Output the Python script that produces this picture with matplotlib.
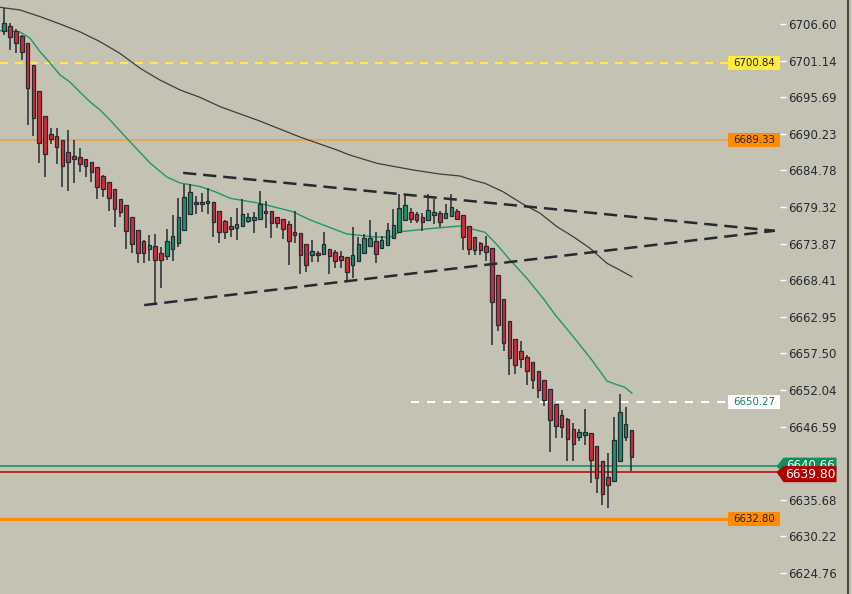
import numpy as np
import matplotlib
matplotlib.use('Agg')
import matplotlib.pyplot as plt
import matplotlib.transforms as mtransforms
from matplotlib.patches import Rectangle, Polygon
from matplotlib.lines import Line2D

plt.rcParams['lines.scale_dashes'] = False
plt.rcParams['font.family'] = ['DejaVu Sans']

# candles (OHLC), oldest first
opens = [6705.60, 6706.30, 6705.60, 6704.81, 6703.72, 6700.45, 6696.57, 6692.84, 6690.16, 6689.86,
         6689.26, 6687.48, 6686.92, 6686.77, 6686.43, 6685.98, 6685.28, 6683.99, 6683.00, 6681.96,
         6680.47, 6679.57, 6677.79, 6675.85, 6674.21, 6673.10, 6673.46, 6672.42, 6671.97, 6673.02,
         6673.91, 6675.85, 6678.23, 6680.02, 6679.72, 6679.87, 6680.02, 6678.68, 6677.19, 6676.44,
         6676.14, 6676.44, 6677.19, 6677.34, 6677.49, 6678.68, 6678.68, 6677.79, 6677.49, 6676.74,
         6675.55, 6675.40, 6673.76, 6672.12, 6672.42, 6672.27, 6673.02, 6672.57, 6671.97, 6671.82,
         6670.63, 6671.23, 6672.42, 6673.46, 6674.21, 6673.16, 6673.61, 6674.65, 6675.55, 6677.34,
         6678.53, 6678.23, 6677.79, 6677.34, 6678.08, 6678.38, 6677.64, 6677.93, 6678.68, 6678.08,
         6676.44, 6674.80, 6673.91, 6673.46, 6673.16, 6669.14, 6665.56, 6662.28, 6659.60, 6657.81,
         6656.96, 6656.17, 6654.83, 6653.49, 6652.15, 6649.91, 6648.27, 6647.67, 6646.18, 6644.99,
         6645.29, 6645.58, 6643.65, 6641.41, 6639.03, 6638.43, 6641.41, 6644.99, 6646.03]
highs = [6708.94, 6706.80, 6705.81, 6704.96, 6703.81, 6700.49, 6696.61, 6692.89, 6691.14, 6691.10,
         6689.31, 6690.80, 6689.31, 6688.12, 6686.48, 6686.07, 6685.33, 6684.09, 6683.05, 6681.96,
         6680.51, 6679.62, 6677.83, 6675.89, 6674.40, 6675.15, 6675.30, 6673.40, 6675.99, 6678.08,
         6680.62, 6682.71, 6682.71, 6681.00, 6681.36, 6682.11, 6680.07, 6678.68, 6677.38, 6677.79,
         6679.13, 6680.47, 6678.38, 6678.53, 6681.66, 6680.17, 6678.68, 6677.88, 6677.49, 6677.19,
         6678.68, 6675.40, 6673.76, 6674.36, 6672.72, 6675.55, 6673.02, 6672.87, 6672.72, 6671.82,
         6676.29, 6674.80, 6675.25, 6677.34, 6675.55, 6674.95, 6676.89, 6678.98, 6681.21, 6681.21,
         6679.13, 6678.53, 6678.38, 6681.21, 6680.47, 6678.68, 6679.72, 6681.21, 6678.98, 6678.08,
         6676.44, 6674.80, 6674.06, 6674.95, 6673.16, 6669.14, 6665.56, 6662.28, 6659.60, 6659.30,
         6657.26, 6656.17, 6654.83, 6653.49, 6652.15, 6649.91, 6649.01, 6647.87, 6647.08, 6646.18,
         6649.16, 6645.58, 6643.65, 6641.41, 6642.60, 6647.97, 6651.40, 6649.46, 6646.03]
lows = [6705.01, 6702.73, 6702.32, 6701.24, 6691.54, 6689.91, 6685.84, 6683.84, 6688.71, 6685.73,
        6682.35, 6681.75, 6682.85, 6684.58, 6683.75, 6683.09, 6680.56, 6680.86, 6678.77, 6676.38,
        6677.87, 6673.10, 6672.42, 6671.02, 6670.93, 6671.32, 6664.86, 6667.20, 6671.42, 6671.27,
        6673.40, 6675.85, 6678.23, 6678.23, 6678.57, 6678.28, 6674.89, 6674.00, 6674.59, 6674.89,
        6674.36, 6676.44, 6676.89, 6675.40, 6677.49, 6676.14, 6674.65, 6676.14, 6674.50, 6670.63,
        6673.91, 6669.29, 6669.59, 6671.08, 6671.08, 6672.27, 6669.29, 6670.18, 6670.18, 6668.24,
        6668.69, 6671.23, 6672.42, 6673.46, 6670.93, 6673.16, 6673.61, 6674.65, 6675.55, 6677.34,
        6676.89, 6676.89, 6675.70, 6677.19, 6676.74, 6676.29, 6677.49, 6677.93, 6677.34, 6672.87,
        6672.12, 6672.12, 6672.12, 6671.23, 6658.70, 6660.79, 6657.81, 6654.23, 6654.38, 6655.27,
        6652.74, 6652.15, 6650.80, 6649.61, 6642.75, 6644.84, 6644.84, 6641.41, 6641.41, 6644.39,
        6643.80, 6638.13, 6636.64, 6634.85, 6634.40, 6638.43, 6641.41, 6644.39, 6639.92]
closes = [6706.71, 6704.71, 6703.81, 6702.47, 6697.02, 6692.63, 6688.82, 6687.27, 6689.41, 6688.31,
          6685.48, 6686.07, 6686.43, 6685.78, 6685.39, 6684.49, 6682.26, 6681.96, 6680.71, 6678.98,
          6678.53, 6675.70, 6673.76, 6672.42, 6672.42, 6673.61, 6671.38, 6671.46, 6674.21, 6674.95,
          6677.79, 6680.77, 6681.51, 6679.72, 6680.07, 6680.22, 6677.08, 6675.55, 6675.55, 6676.00,
          6676.74, 6678.23, 6677.79, 6677.79, 6679.72, 6678.38, 6676.89, 6676.89, 6676.00, 6674.21,
          6675.10, 6672.12, 6670.63, 6672.72, 6672.12, 6673.76, 6671.97, 6671.23, 6671.38, 6669.59,
          6672.12, 6673.76, 6674.65, 6674.65, 6672.27, 6674.36, 6675.85, 6676.59, 6679.13, 6679.57,
          6677.49, 6677.34, 6677.04, 6678.83, 6678.53, 6677.04, 6678.38, 6679.28, 6677.49, 6674.80,
          6673.02, 6672.87, 6672.87, 6672.57, 6665.11, 6661.68, 6659.00, 6656.77, 6655.72, 6656.62,
          6654.83, 6653.49, 6652.00, 6650.50, 6647.52, 6646.63, 6646.48, 6644.69, 6643.94, 6645.73,
          6645.73, 6641.56, 6638.88, 6636.49, 6637.83, 6644.54, 6648.72, 6646.93, 6642.00]

# moving averages (bar index, price)
ma_fast_x = [-0.7, 1.0, 2.7, 4.4, 6.2, 7.9, 9.6, 11.3, 13.0, 14.8, 16.5, 18.2, 21.7, 25.1, 28.0,
             30.3, 33.7, 36.3, 38.9, 44.0, 49.7, 52.7, 59.0, 63.5, 66.4, 68.2, 73.8, 78.5, 82.8,
             84.9, 87.1, 90.0, 92.8, 94.9, 98.0, 101.2, 103.8, 105.2, 106.9, 108.1]
ma_fast_y = [6705.60, 6705.56, 6705.41, 6704.51, 6702.43, 6700.79, 6699.00, 6697.96, 6696.47, 6694.97,
             6693.78, 6692.29, 6689.01, 6685.88, 6683.79, 6682.90, 6682.38, 6681.60, 6680.62, 6679.87,
             6678.62, 6677.38, 6675.30, 6674.89, 6674.80, 6675.64, 6676.14, 6676.49, 6675.55, 6673.66,
             6671.42, 6668.69, 6665.71, 6663.22, 6659.99, 6656.51, 6653.38, 6652.93, 6652.44, 6651.55]
ma_slow_x = [-0.7, 2.7, 6.2, 9.6, 13.0, 16.5, 19.9, 23.4, 26.8, 30.3, 33.7, 37.2, 44.0, 50.9, 57.3,
             59.5, 64.2, 70.4, 75.0, 78.5, 80.6, 82.8, 85.9, 89.3, 92.3, 95.2, 98.0, 100.9, 103.8,
             106.0, 108.1]
ma_slow_y = [6709.09, 6708.69, 6707.69, 6706.60, 6705.45, 6703.96, 6702.23, 6700.00, 6698.25, 6696.76,
             6695.67, 6694.27, 6692.14, 6689.76, 6687.82, 6687.07, 6685.83, 6684.84, 6684.24, 6683.94,
             6683.35, 6682.85, 6681.60, 6679.77, 6678.38, 6676.38, 6674.89, 6673.16, 6670.93, 6669.93,
             6668.93]

# triangle trend lines (bar index, price)
upper_x = [30.8, 132.7]
upper_y = [6684.41, 6675.78]
lower_x = [24.1, 132.7]
lower_y = [6664.70, 6675.78]

# horizontal levels
level_yellow = 6700.84
level_orange_thin = 6689.33
level_white = 6650.27
white_start = 70.0
level_orange = 6632.80
price_green = 6640.66
price_red = 6639.80

tick_values = [6706.60, 6701.14, 6695.69, 6690.23, 6684.78, 6679.32, 6673.87, 6668.41,
               6662.95, 6657.50, 6652.04, 6646.59, 6641.13, 6635.68, 6630.22, 6624.76]

bg = '#c4c2b3'
dark = '#262a30'
up_col = '#17946a'
down_col = '#d42a38'

fig = plt.figure(figsize=(8.53, 5.94), dpi=100, facecolor=bg)
ax = fig.add_axes([0, 0, 780 / 853, 1])
ax.set_facecolor(bg)
for s in ax.spines.values():
    s.set_visible(False)

x = np.arange(len(opens))
o = np.array(opens); c = np.array(closes)
h = np.array(highs); l = np.array(lows)
cols = [up_col if cc >= oo else down_col for oo, cc in zip(o, c)]
body_bot = np.minimum(o, c)
body_h = np.maximum(np.abs(c - o), 0.25)

ax.vlines(x, l, h, color=dark, linewidth=1.1, zorder=3)
ax.bar(x, body_h, bottom=body_bot, width=0.62, color=cols, edgecolor=dark,
       linewidth=0.9, zorder=4)

# moving averages
ax.plot(ma_slow_x, ma_slow_y, color='#3d3d3d', linewidth=0.9, zorder=2)
ax.plot(ma_fast_x, ma_fast_y, color='#1d9868', linewidth=1.0, zorder=2)

# horizontal lines
ax.axhline(level_yellow, color='#ffeb3b', linewidth=1.5, dashes=(5.8, 5.0), zorder=1.5)
ax.axhline(level_orange_thin, color='#eba24e', linewidth=1.3, zorder=1.5)
ax.plot([white_start, 140], [level_white, level_white], color='white', linewidth=1.5,
        dashes=(5.8, 5.8), zorder=1.5)
ax.axhline(level_orange, color='#ff8c00', linewidth=2.3, zorder=1.5)
ax.axhline(price_green, color='#0b8f5e', linewidth=1.1, zorder=1.6)
ax.axhline(price_red, color='#c00000', linewidth=1.1, zorder=1.6)

# trend lines
ax.plot(upper_x, upper_y, color=dark, linewidth=1.8, dashes=(9.5, 5.0), zorder=5)
ax.plot(lower_x, lower_y, color=dark, linewidth=1.8, dashes=(9.5, 5.0), zorder=5)

ax.set_xlim(-0.74, 133.6)
ax.set_ylim(6621.63, 6710.18)
ax.set_xticks([])
ax.yaxis.tick_right()
ax.set_yticks(tick_values)
ax.set_yticklabels([f'{v:.2f}' for v in tick_values])
ax.tick_params(axis='y', color='white', labelcolor='#262a33', length=4.3, width=1,
               pad=1.5, labelsize=8.5)

blend = mtransforms.blended_transform_factory(ax.transAxes, ax.transData)

# level labels inside plot
def level_box(price, face, text_col):
    ax.add_patch(Rectangle((728 / 780, price - 1.05), 52 / 780, 2.1, transform=blend,
                           facecolor=face, edgecolor='none', zorder=7, clip_on=False))
    ax.text(754 / 780, price, f'{price:.2f}', transform=blend, ha='center', va='center',
            fontsize=7.3, color=text_col, zorder=8, clip_on=False)

level_box(level_yellow, '#ffeb3b', '#222222')
level_box(level_orange_thin, '#ff8c00', '#222222')
level_box(level_white, 'white', '#1d7a5a')
level_box(level_orange, '#ff8c00', '#222222')

# price-scale arrow labels (the later one sits on top of the earlier one)
def arrow_label(price, centre, face, half, fs, z):
    pts = [(776.5 / 780, price), (783.5 / 780, centre + half), (836.5 / 780, centre + half),
           (836.5 / 780, centre - half), (783.5 / 780, centre - half)]
    ax.add_patch(Polygon(pts, closed=True, transform=blend, facecolor=face,
                         edgecolor='none', zorder=z, clip_on=False))
    ax.text(810 / 780, centre, f'{price:.2f}', transform=blend, ha='center', va='center',
            fontsize=fs, color='white', zorder=z + 0.5, clip_on=False)

arrow_label(price_green, price_green + 0.1, '#0b8f5e', 1.2, 8.5, 9)
arrow_label(price_red, price_red - 0.3, '#b00000', 1.2, 8.8, 10)

fig.add_artist(Line2D([848.5 / 853, 848.5 / 853], [0, 1], color='#2a2a2a', linewidth=1.2))

fig.savefig('out.png', dpi=100, facecolor=bg)
